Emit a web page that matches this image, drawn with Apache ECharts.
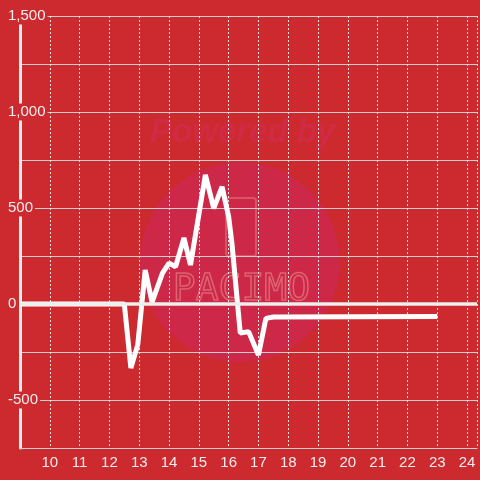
<!DOCTYPE html>
<html>
<head>
<meta charset="utf-8">
<script src="https://cdn.jsdelivr.net/npm/echarts@6/dist/echarts.min.js"></script>
<style>
  html, body { margin: 0; padding: 0; background: #cc2a2e; }
  #chart { width: 480px; height: 480px; }
</style>
</head>
<body>
<div id="chart"></div>
<script>
// hours (x) and values (y)
const hours = [9, 12.5, 12.72, 12.95, 13.2, 13.43, 13.78, 14.0, 14.22, 14.5, 14.72, 15.22, 15.5, 15.78, 16.0, 16.11, 16.39, 16.67, 17.0, 17.25, 17.5, 23.0];
const values = [0, 0, -333, -213, 177, 10, 161, 213, 194, 344, 203, 672, 498, 611, 455, 318, -151, -144, -266, -75, -68, -65];
const yTicks = { min: -750, max: 1500, step: 250 };

const chart = echarts.init(document.getElementById('chart'));
const bg = '#cc2a2e';

const option = {
  backgroundColor: bg,
  animation: false,
  textStyle: { fontFamily: 'Liberation Sans' },
  grid: { left: 20, right: 0, top: 16, bottom: 32 },
  // watermark
  graphic: [
    { type: 'circle', shape: { cx: 240, cy: 262, r: 100 }, style: { fill: '#cd2848' }, z: -10, silent: true },
    { type: 'text', left: 150, top: 116, style: { text: 'Powered by', font: 'italic bold 33px "Liberation Sans"', fill: '#d12a44' }, z: -9, silent: true },
    { type: 'rect', shape: { x: 226, y: 198, width: 30, height: 58, r: 3 }, style: { fill: 'none', stroke: '#d85565', lineWidth: 2 }, z: -9, silent: true },
    { type: 'text', left: 172, top: 270, style: { text: 'PACIMO', font: '38px "DejaVu Sans Mono"', fill: 'none', stroke: '#dd6470', lineWidth: 1.5 }, z: -9, silent: true }
  ],
  xAxis: {
    type: 'value',
    min: 9,
    max: 24.333,
    interval: 1,
    axisLine: { onZero: false, lineStyle: { color: '#d0d0d0', width: 1 } },
    axisTick: { show: false },
    axisLabel: {
      color: '#eee',
      fontSize: 15,
      margin: 7,
      formatter: v => (Number.isInteger(v) && v > 9) ? String(v) : ''
    },
    splitLine: { show: true, lineStyle: { color: '#e0e0e0', type: [2, 2], width: 1 } }
  },
  yAxis: {
    type: 'value',
    min: yTicks.min,
    max: yTicks.max,
    interval: yTicks.step,
    axisLine: { show: true, lineStyle: { color: '#eee', width: 3 } },
    axisTick: { show: false },
    axisLabel: {
      color: '#eee',
      fontSize: 15,
      align: 'left',
      margin: 14,
      backgroundColor: bg,
      padding: [1, 2],
      formatter: v => (v % 500 === 0 && v > yTicks.min) ? v.toLocaleString('en-US') : ''
    },
    splitLine: { show: true, lineStyle: { color: '#d0d0d0', width: 1 } }
  },
  series: [{
    type: 'line',
    data: hours.map((h, i) => [h, values[i]]),
    showSymbol: false,
    lineStyle: { color: '#fff', width: 5 },
    markLine: {
      silent: true,
      symbol: 'none',
      label: { show: false },
      lineStyle: { color: '#eee', width: 3.5, type: 'solid' },
      data: [{ yAxis: 0 }]
    },
    z: 3
  }]
};
chart.setOption(option);
</script>
</body>
</html>
